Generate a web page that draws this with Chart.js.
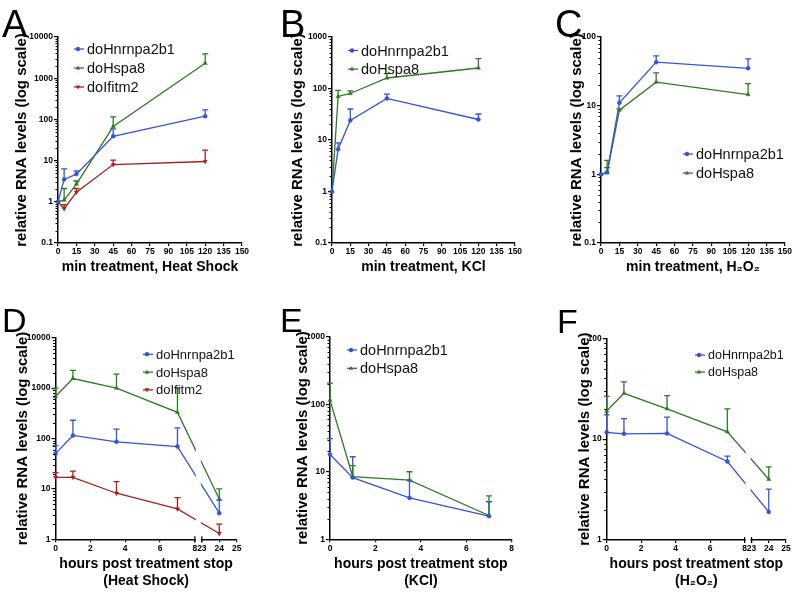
<!DOCTYPE html>
<html>
<head>
<meta charset="utf-8">
<script src="https://cdn.jsdelivr.net/npm/chart.js@4.4.1/dist/chart.umd.min.js"></script>
<style>
  body { margin: 0; background: #fff; }
  #fig { position: relative; width: 793px; height: 592px; }
  #fig canvas { position: absolute; }
</style>
</head>
<body>
<div id="fig">
  <canvas id="cA" width="265" height="300" style="left:0;top:0"></canvas>
  <canvas id="cB" width="265" height="300" style="left:265px;top:0"></canvas>
  <canvas id="cC" width="263" height="300" style="left:530px;top:0"></canvas>
  <canvas id="cD" width="265" height="292" style="left:0;top:300px"></canvas>
  <canvas id="cE" width="265" height="292" style="left:265px;top:300px"></canvas>
  <canvas id="cF" width="263" height="292" style="left:530px;top:300px"></canvas>
</div>
<script>
const FONT = "'Liberation Sans', Arial, Helvetica, sans-serif";
const BLUE = '#3453d6', GREEN = '#2e7a22', RED = '#a3201f';

// time points
const minutes = [0, 5, 15, 45, 120];
const hours = [0, 1, 3.5, 7, 24];
const hoursKCl = [0, 1, 3.5, 7];

// tick labels
const minuteTicks = [0, 15, 30, 45, 60, 75, 90, 105, 120, 135, 150];
const hourTicks = [0, 2, 4, 6, 8];
const brokenTicks = [0, 2, 4, 6, 8, 23, 24, 25];

// A: heat shock (mean, top of error bar)
const hsHnrnp = [1, 3.5, 4.7, 39, 120];
const hsHnrnpErr = [1, 6.3, 5.6, 59, 170];
const hsHspa8 = [1, 1.1, 2.7, 67, 2300];
const hsHspa8Err = [1, 2.1, 3.2, 115, 3900];
const hsIfitm = [1, 0.68, 1.7, 8, 9.5];
const hsIfitmErr = [1, 0.85, 2.1, 10.3, 18];

// B: KCl
const kclHnrnp = [1, 6.6, 24, 64, 25];
const kclHnrnpErr = [1, 8.8, 40, 78, 32];
const kclHspa8 = [1, 70, 80, 160, 250];
const kclHspa8Err = [1, 92, 90, 195, 380];

// C: H2O2
const h2Hnrnp = [1, 1.08, 11, 43, 35];
const h2HnrnpErr = [1, 1.25, 13.9, 53, 48];
const h2Hspa8 = [1, 1.05, 8.6, 22, 14.5];
const h2Hspa8Err = [1, 1.6, 9, 30, 21];

// D: recovery after heat shock
const hsRecHnrnp = [50, 115, 86, 69, 3.3];
const hsRecHnrnpErr = [72, 230, 153, 162, 6];
const hsRecHspa8 = [680, 1550, 1000, 330, 6.3];
const hsRecHspa8Err = [1000, 2250, 1900, 1000, 10];
const hsRecIfitm = [17, 17, 8.2, 4, 1.3];
const hsRecIfitmErr = [21, 22.5, 14, 6.7, 2];

// E: recovery after KCl
const kclRecHnrnp = [18, 8.2, 4.1, 2.2];
const kclRecHnrnpErr = [31, 16.7, 7.5, 3.6];
const kclRecHspa8 = [115, 8.5, 7.5, 2.25];
const kclRecHspa8Err = [205, 12.3, 10, 4.4];

// F: recovery after H2O2
const h2RecHnrnp = [11.7, 11.3, 11.4, 6, 1.9];
const h2RecHnrnpErr = [17.4, 16, 16.5, 6.8, 3.2];
const h2RecHspa8 = [19, 28.5, 20, 11.8, 4];
const h2RecHspa8Err = [26.5, 37, 27, 20, 5.3];

// broken x axis: 23..25 h are drawn right after 8 h
const SHIFT = 14.6;
const bx = t => (t > 8 ? t - SHIFT : t);

function marker(ctx, style, rot, x, y, r) {
  ctx.beginPath();
  if (style === 'circle') {
    ctx.arc(x, y, r, 0, Math.PI * 2);
  } else {
    const s = rot ? -1 : 1;
    ctx.moveTo(x, y - s * r * 1.1);
    ctx.lineTo(x + r, y + s * r * 0.7);
    ctx.lineTo(x - r, y + s * r * 0.7);
    ctx.closePath();
  }
  ctx.fill();
}

const bits = {
  id: 'bits',
  afterDatasetsDraw(chart, args, o) {
    const { ctx, chartArea: a, scales: { x, y } } = chart;
    ctx.save();
    if (o.broken) {
      const xa = x.getPixelForValue(8), xb = x.getPixelForValue(bx(23));
      ctx.fillStyle = '#fff';
      ctx.fillRect(xa + 1, a.top, xb - xa - 2, a.bottom - a.top + 2);
      ctx.strokeStyle = '#000';
      ctx.lineWidth = 1.2;
      [xa, xb].forEach(px => {
        ctx.beginPath();
        ctx.moveTo(px, a.bottom - 3);
        ctx.lineTo(px, a.bottom + 3);
        ctx.stroke();
      });
    }
    chart.data.datasets.forEach((ds, i) => {
      ctx.strokeStyle = ds.borderColor;
      ctx.lineWidth = 1.3;
      chart.getDatasetMeta(i).data.forEach((pt, j) => {
        const top = y.getPixelForValue(ds.errTop[j]);
        if (pt.y - top < 1) return;
        ctx.beginPath();
        ctx.moveTo(pt.x, pt.y);
        ctx.lineTo(pt.x, top);
        ctx.moveTo(pt.x - 3, top);
        ctx.lineTo(pt.x + 3, top);
        ctx.stroke();
      });
    });
    ctx.restore();
  },
  afterDraw(chart, args, o) {
    const { ctx, chartArea: a, scales: { y } } = chart;
    ctx.save();
    // minor log ticks
    ctx.strokeStyle = '#000';
    ctx.lineWidth = 1;
    for (let k = Math.floor(Math.log10(y.min)); k < Math.log10(y.max); k++) {
      for (let m = 2; m <= 9; m++) {
        const py = Math.round(y.getPixelForValue(m * Math.pow(10, k))) + 0.5;
        ctx.beginPath();
        ctx.moveTo(a.left - 2.5, py);
        ctx.lineTo(a.left, py);
        ctx.stroke();
      }
    }
    // legend inside the plot
    const L = o.legend;
    ctx.font = `${L.size}px ${FONT}`;
    ctx.textBaseline = 'middle';
    ctx.textAlign = 'left';
    chart.data.datasets.forEach((ds, i) => {
      const yy = L.y + i * L.dy;
      ctx.strokeStyle = ds.borderColor;
      ctx.fillStyle = ds.borderColor;
      ctx.lineWidth = 1.3;
      ctx.beginPath();
      ctx.moveTo(L.x, yy);
      ctx.lineTo(L.x + 10, yy);
      ctx.stroke();
      marker(ctx, ds.pointStyle, ds.pointRotation, L.x + 4, yy, 2.2);
      ctx.fillStyle = '#111';
      ctx.fillText(ds.label, L.x + 13, yy + 1);
    });
    // panel letter
    ctx.fillStyle = '#000';
    ctx.textBaseline = 'alphabetic';
    ctx.font = `${o.letter.size}px ${FONT}`;
    ctx.fillText(o.letter.text, o.letter.x, o.letter.y);
    ctx.restore();
  }
};

function series(label, color, style, xs, ys, tops) {
  return {
    label,
    data: xs.map((x, i) => ({ x, y: ys[i] })),
    errTop: tops,
    borderColor: color,
    backgroundColor: color,
    pointStyle: style === 'down' ? 'triangle' : style,
    pointRotation: style === 'down' ? 180 : 0,
    pointRadius: style === 'circle' ? 2 : 2.4,
    pointBorderWidth: 0.5,
    borderWidth: 1.3,
    tension: 0,
    clip: false
  };
}

function decades(min, max) {
  const out = [];
  for (let k = Math.round(Math.log10(min)); k <= Math.round(Math.log10(max)); k++) out.push({ value: Math.pow(10, k) });
  return out;
}

function panel(id, p) {
  new Chart(document.getElementById(id), {
    type: 'line',
    data: { datasets: p.datasets },
    options: {
      responsive: false,
      animation: false,
      events: [],
      layout: { autoPadding: false, padding: { top: p.padTop, right: p.padRight, left: 0, bottom: 0 } },
      plugins: {
        legend: { display: false },
        tooltip: { enabled: false },
        bits: { legend: p.legend, letter: p.letter, broken: p.broken }
      },
      scales: {
        x: {
          type: 'linear',
          min: 0,
          max: p.xMax,
          border: { color: '#000', width: 1.5 },
          grid: { drawOnChartArea: false, tickLength: 3, color: '#000', lineWidth: 1.2 },
          ticks: {
            autoSkip: false, maxRotation: 0, padding: 1, color: '#000',
            font: { family: FONT, size: 8.5, weight: 'bold' },
            callback: v => (v > 8.2 && p.broken ? String(Math.round(v + SHIFT)) : String(v))
          },
          afterBuildTicks: s => { s.ticks = p.xTicks.map(v => ({ value: v })); },
          afterFit: s => { s.height = p.xH; },
          title: {
            display: true, text: p.xTitle, color: '#000',
            font: { family: FONT, size: 14, weight: 'bold' },
            padding: { top: 0, bottom: p.xTitlePad }
          }
        },
        y: {
          type: 'logarithmic',
          min: p.yMin,
          max: p.yMax,
          border: { color: '#000', width: 1.5 },
          grid: { drawOnChartArea: false, tickLength: 4, color: '#000', lineWidth: 1.2 },
          ticks: {
            autoSkip: false, padding: 1, color: '#000',
            font: { family: FONT, size: 8.5, weight: 'bold' },
            callback: v => String(Number(v.toPrecision(3)))
          },
          afterBuildTicks: s => { s.ticks = decades(p.yMin, p.yMax); },
          afterFit: s => { s.width = p.yW; },
          title: {
            display: true, text: 'relative RNA levels (log scale)', color: '#000',
            font: { family: FONT, size: 15, weight: 'bold' },
            padding: { top: p.yTitlePad, bottom: 0 }
          }
        }
      }
    },
    plugins: [bits]
  });
}

panel('cA', {
  datasets: [
    series('doHnrnpa2b1', BLUE, 'circle', minutes, hsHnrnp, hsHnrnpErr),
    series('doHspa8', GREEN, 'triangle', minutes, hsHspa8, hsHspa8Err),
    series('doIfitm2', RED, 'down', minutes, hsIfitm, hsIfitmErr)
  ],
  xMax: 150, xTicks: minuteTicks, yMin: 0.1, yMax: 10000,
  padTop: 37, padRight: 23, yW: 58, xH: 57, yTitlePad: 13, xTitlePad: 24.6,
  xTitle: 'min treatment, Heat Shock',
  legend: { x: 74, y: 49, dy: 19, size: 14.5 }, letter: { text: 'A', x: 2, y: 37, size: 38 }
});

panel('cB', {
  datasets: [
    series('doHnrnpa2b1', BLUE, 'circle', minutes, kclHnrnp, kclHnrnpErr),
    series('doHspa8', GREEN, 'triangle', minutes, kclHspa8, kclHspa8Err)
  ],
  xMax: 150, xTicks: minuteTicks, yMin: 0.1, yMax: 1000,
  padTop: 37, padRight: 15, yW: 67, xH: 57, yTitlePad: 23.7, xTitlePad: 24.6,
  xTitle: 'min treatment, KCl',
  legend: { x: 83, y: 50.5, dy: 18.5, size: 14.5 }, letter: { text: 'B', x: 15, y: 37, size: 38 }
});

panel('cC', {
  datasets: [
    series('doHnrnpa2b1', BLUE, 'circle', minutes, h2Hnrnp, h2HnrnpErr),
    series('doHspa8', GREEN, 'triangle', minutes, h2Hspa8, h2Hspa8Err)
  ],
  xMax: 150, xTicks: minuteTicks, yMin: 0.1, yMax: 100,
  padTop: 37, padRight: 7, yW: 71, xH: 57, yTitlePad: 37.7, xTitlePad: 24.6,
  xTitle: 'min treatment, H\u2082O\u2082',
  legend: { x: 153, y: 154, dy: 19, size: 14.5 }, letter: { text: 'C', x: 25, y: 37, size: 38 }
});

panel('cD', {
  datasets: [
    series('doHnrnpa2b1', BLUE, 'circle', hours.map(bx), hsRecHnrnp, hsRecHnrnpErr),
    series('doHspa8', GREEN, 'triangle', hours.map(bx), hsRecHspa8, hsRecHspa8Err),
    series('doIfitm2', RED, 'down', hours.map(bx), hsRecIfitm, hsRecIfitmErr)
  ],
  xMax: bx(25), xTicks: brokenTicks.map(bx), broken: true, yMin: 1, yMax: 10000,
  padTop: 37.7, padRight: 28.3, yW: 55.5, xH: 52.7, yTitlePad: 13.7, xTitlePad: 2.6,
  xTitle: ['hours post treatment stop', '(Heat Shock)'],
  legend: { x: 143, y: 54.3, dy: 17.8, size: 13 }, letter: { text: 'D', x: 2, y: 32, size: 34 }
});

panel('cE', {
  datasets: [
    series('doHnrnpa2b1', BLUE, 'circle', hoursKCl, kclRecHnrnp, kclRecHnrnpErr),
    series('doHspa8', GREEN, 'triangle', hoursKCl, kclRecHspa8, kclRecHspa8Err)
  ],
  xMax: 8, xTicks: hourTicks, yMin: 1, yMax: 1000,
  padTop: 36.7, padRight: 18.3, yW: 65, xH: 52.7, yTitlePad: 29.3, xTitlePad: 2.6,
  xTitle: ['hours post treatment stop', '(KCl)'],
  legend: { x: 82, y: 50, dy: 18.3, size: 14.5 }, letter: { text: 'E', x: 15, y: 32, size: 34 }
});

panel('cF', {
  datasets: [
    series('doHnrnpa2b1', BLUE, 'circle', hours.map(bx), h2RecHnrnp, h2RecHnrnpErr),
    series('doHspa8', GREEN, 'triangle', hours.map(bx), h2RecHspa8, h2RecHspa8Err)
  ],
  xMax: bx(25), xTicks: brokenTicks.map(bx), broken: true, yMin: 1, yMax: 100,
  padTop: 38.3, padRight: 7, yW: 76.7, xH: 52, yTitlePad: 46, xTitlePad: 2.6,
  xTitle: ['hours post treatment stop', '(H\u2082O\u2082)'],
  legend: { x: 165, y: 55, dy: 17, size: 12.5 }, letter: { text: 'F', x: 27, y: 33, size: 34 }
});
</script>
</body>
</html>
